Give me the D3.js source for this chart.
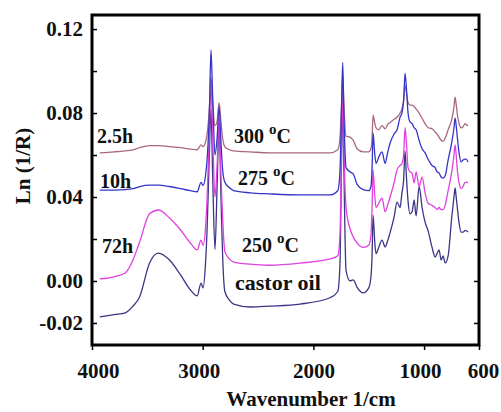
<!DOCTYPE html>
<html><head><meta charset="utf-8">
<script src="https://cdn.jsdelivr.net/npm/d3@7"></script>
<style>
body{margin:0;background:#fff}
svg{display:block}
text{font-family:"Liberation Serif","Times New Roman",serif;font-weight:bold;fill:#111}
</style>
</head><body>
<svg id="chart" width="501" height="412"></svg>
<script>
// ---- data (wavenumber in 1/cm, Ln(1/R)) ----
const wavenumbers = [3930,3800,3700,3630,3570,3480,3400,3300,3200,3110,3050,3015,2997,2975,2960,2940,2925,2910,2889,2870,2852,2835,2820,2800,2760,2720,2570,2400,2120,1850,1780,1760,1745,1735,1725,1705,1670,1640,1605,1550,1500,1480,1470,1461,1445,1434,1410,1380,1352,1330,1307,1271,1244,1217,1200,1185,1172,1160,1145,1127,1108,1090,1072,1045,1018,991,964,928,900,883,865,846,828,810,783,750,730,720,710,700,684,666,648,630,621,603];

const s300 = [0.061,0.0615,0.062,0.0625,0.0635,0.0645,0.0645,0.064,0.0635,0.0628,0.0625,0.0648,0.064,0.066,0.070,0.082,0.097,0.085,0.074,0.076,0.085,0.076,0.068,0.064,0.0625,0.062,0.0615,0.061,0.061,0.061,0.0625,0.068,0.085,0.098,0.085,0.069,0.0685,0.067,0.063,0.0615,0.0615,0.063,0.068,0.079,0.075,0.073,0.072,0.074,0.0725,0.0745,0.0755,0.077,0.078,0.080,0.082,0.086,0.093,0.090,0.085,0.0838,0.0838,0.083,0.082,0.080,0.0775,0.075,0.073,0.0725,0.071,0.070,0.0685,0.067,0.0665,0.068,0.072,0.077,0.083,0.0876,0.084,0.0795,0.075,0.073,0.0735,0.075,0.0745,0.074];

const s275 = [0.0433,0.0433,0.0435,0.044,0.045,0.0457,0.0457,0.045,0.044,0.043,0.0425,0.047,0.0455,0.050,0.058,0.080,0.110,0.088,0.060,0.068,0.083,0.066,0.053,0.047,0.0445,0.043,0.042,0.0415,0.041,0.041,0.043,0.052,0.085,0.104,0.080,0.054,0.052,0.051,0.046,0.0435,0.043,0.045,0.054,0.0705,0.060,0.056,0.059,0.0615,0.056,0.061,0.0657,0.070,0.072,0.078,0.080,0.086,0.099,0.092,0.080,0.0757,0.075,0.073,0.072,0.067,0.063,0.061,0.058,0.055,0.054,0.052,0.0515,0.0495,0.049,0.050,0.0576,0.066,0.073,0.0776,0.074,0.0686,0.061,0.0567,0.0576,0.058,0.058,0.0567];

const s250 = [0.001,0.002,0.0038,0.010,0.0186,0.032,0.0338,0.030,0.0243,0.018,0.0148,0.0195,0.017,0.025,0.040,0.070,0.094,0.070,0.040,0.055,0.078,0.050,0.030,0.014,0.0105,0.009,0.008,0.0075,0.0085,0.0105,0.012,0.022,0.065,0.091,0.065,0.035,0.025,0.021,0.018,0.016,0.017,0.022,0.035,0.053,0.040,0.035,0.037,0.0395,0.033,0.036,0.040,0.0467,0.053,0.055,0.056,0.060,0.073,0.066,0.054,0.052,0.0514,0.0467,0.052,0.045,0.0495,0.042,0.037,0.036,0.035,0.034,0.035,0.034,0.034,0.036,0.043,0.052,0.060,0.0648,0.060,0.053,0.0467,0.044,0.045,0.047,0.047,0.047];

const castor = [-0.0171,-0.016,-0.0152,-0.012,-0.0076,0.0086,0.0133,0.010,0.0029,-0.0043,-0.0071,-0.001,-0.0033,0.008,0.025,0.060,0.082,0.050,0.015,0.045,0.075,0.040,0.012,-0.005,-0.009,-0.011,-0.0124,-0.012,-0.011,-0.008,-0.005,0.008,0.060,0.088,0.055,0.005,0.000,0.0005,-0.003,-0.0057,-0.0033,0.002,0.012,0.0314,0.018,0.013,0.016,0.0195,0.0162,0.019,0.023,0.0305,0.0376,0.035,0.042,0.048,0.062,0.050,0.038,0.032,0.033,0.0386,0.031,0.045,0.035,0.028,0.024,0.016,0.0114,0.013,0.0148,0.010,0.012,0.0086,0.012,0.0305,0.040,0.0443,0.040,0.035,0.0276,0.0233,0.0233,0.024,0.024,0.0233];

const seriesNames = ["castor oil","250 °C","300 °C","275 °C"];
const seriesColors = ["#3a3585","#e040e0","#a8687e","#3434c8"];
const seriesValues = [castor, s250, s300, s275];

const yTickValues = [-0.02,0,0.02,0.04,0.06,0.08,0.10,0.12];
const yTickLabels = ["-0.02","0.00","","0.04","","0.08","","0.12"];
const xTickValues = [4000,3000,2000,1000,504];
const xTickLabels = ["4000","3000","2000","1000","600"];

// annotations: [text, wavenumber-anchor, value-anchor]
const hourLabels = [["2.5h",3955,0.0657],["10h",3928,0.0445],["72h",3910,0.0134]];
// [text, superscript, suffix, wavenumber-anchor, value-anchor]
const tempLabels = [["300 ","o","C",2717,0.0657],["275 ","o","C",2681,0.0457],["250 ","o","C",2645,0.0138],["castor oil","","",2708,-0.0042]];

// ---- drawing ----
const svg = d3.select("#chart");
const L=92, R=479, T=15, B=345;
const x = d3.scaleLinear().domain([4000,504]).range([L,R]);
const y = d3.scaleLinear().domain([-0.0305,0.1267]).range([B,T]);

const line = d3.line().x(d=>x(d[0])).y(d=>y(d[1])).curve(d3.curveMonotoneX);

seriesValues.forEach((vals,i)=>{
  svg.append("path")
    .datum(wavenumbers.map((w,j)=>[w,vals[j]]))
    .attr("fill","none")
    .attr("stroke",seriesColors[i])
    .attr("stroke-width",1.3)
    .attr("stroke-linejoin","round")
    .attr("d",line);
});

// axes
const fmtY = v => yTickLabels[yTickValues.indexOf(v)] ?? "";
const gy = svg.append("g").attr("transform",`translate(${L},0)`)
  .call(d3.axisLeft(y).tickValues(yTickValues).tickFormat(fmtY).tickSizeInner(-5).tickSizeOuter(0).tickPadding(9));
const gr = svg.append("g").attr("transform",`translate(${R},0)`)
  .call(d3.axisRight(y).tickValues(yTickValues).tickFormat("").tickSizeInner(-5).tickSizeOuter(0));
const gx = svg.append("g").attr("transform",`translate(0,${B})`)
  .call(d3.axisBottom(x).tickValues(xTickValues).tickFormat(v=>xTickLabels[xTickValues.indexOf(v)]).tickSizeInner(5).tickSizeOuter(0).tickPadding(13));
[gy,gr,gx].forEach(g=>{
  g.select(".domain").remove();
  g.selectAll("line").attr("stroke","#000").attr("stroke-width",1.5);
  g.selectAll("text").attr("font-size",21).attr("font-family",null).style("fill","#111");
});
gx.selectAll(".tick").filter(d=>d===504).select("text").attr("dx",4);
gx.selectAll(".tick").filter(d=>d===4000).select("text").attr("dx",6);
gx.selectAll(".tick").filter(d=>d===3000).select("text").attr("dx",-4);
gx.selectAll(".tick").filter(d=>d===1000).select("text").attr("dx",-4);

// frame
svg.append("rect").attr("x",L).attr("y",T).attr("width",R-L).attr("height",B-T)
  .attr("fill","none").attr("stroke","#000").attr("stroke-width",3);

// axis titles
svg.append("text").attr("transform","translate(30,166) rotate(-90)")
  .attr("text-anchor","middle").attr("font-size",21).text("Ln (1/R)");
svg.append("text").attr("x",311).attr("y",406)
  .attr("text-anchor","middle").attr("font-size",21).text("Wavenumber 1/cm");

// annotations
hourLabels.forEach(d=>{
  svg.append("text").attr("x",x(d[1])).attr("y",y(d[2])).attr("font-size",20).text(d[0]);
});
tempLabels.forEach(d=>{
  const t = svg.append("text").attr("x",x(d[3])).attr("y",y(d[4])).attr("font-size",d[1]?20:22);
  t.append("tspan").text(d[0]);
  if(d[1]){
    t.append("tspan").attr("font-size",15).attr("dy",-9).text(d[1]);
    t.append("tspan").attr("dy",9).text(d[2]);
  }
});
</script>
</body></html>
